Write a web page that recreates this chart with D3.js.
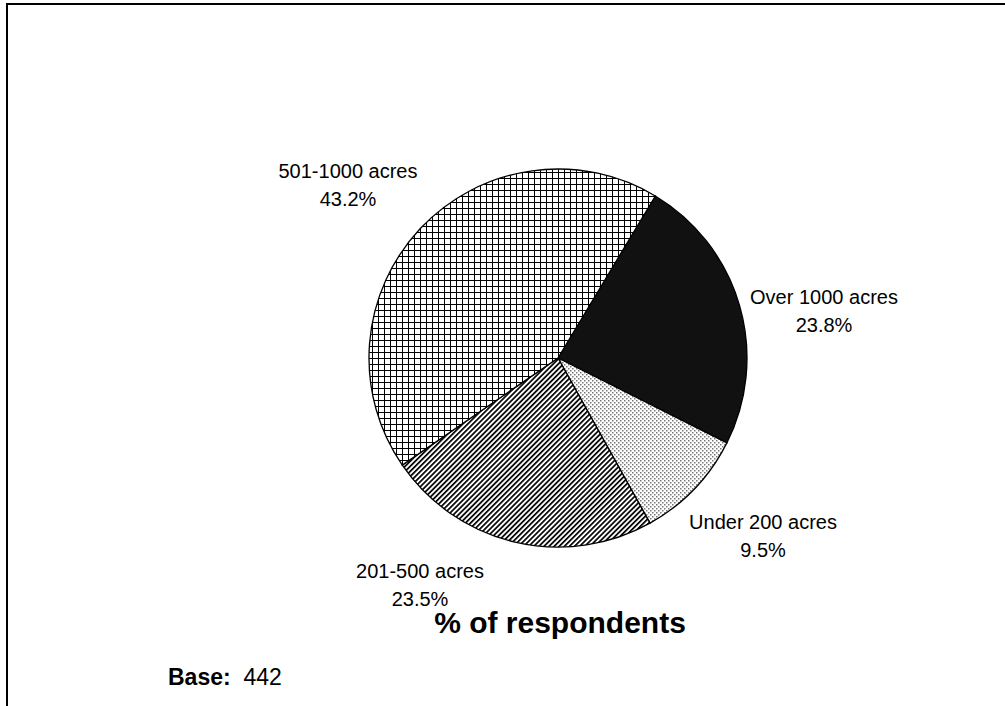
<!DOCTYPE html>
<html>
<head>
<meta charset="utf-8">
<script src="https://cdn.jsdelivr.net/npm/d3@7"></script>
<style>
  body { margin: 0; background: #fff; }
  svg { display: block; font-family: "Liberation Sans", Arial, sans-serif; }
</style>
</head>
<body>
<div id="chart"></div>
<script>
var width = 1005;
var height = 706;

// data, clockwise from the top-right slice
var categories = ["Over 1000 acres", "Under 200 acres", "201-500 acres", "501-1000 acres"];
var shares = [23.8, 9.5, 23.5, 43.2];
var shareLabels = ["23.8%", "9.5%", "23.5%", "43.2%"];
var fills = ["solid", "dots", "diag", "grid"];

// label anchor points (layout, not data)
var labelPos = [[824, 304], [763, 529], [420, 578], [348, 178]];

var svg = d3.select("#chart").append("svg")
    .attr("width", width)
    .attr("height", height);

var defs = svg.append("defs");

var dots = defs.append("pattern").attr("id", "dots")
    .attr("patternUnits", "userSpaceOnUse").attr("width", 4).attr("height", 4);
dots.append("rect").attr("width", 4).attr("height", 4).attr("fill", "#fff");
dots.append("rect").attr("x", 0).attr("y", 0).attr("width", 1.5).attr("height", 1.5).attr("fill", "#777");
dots.append("rect").attr("x", 2).attr("y", 2).attr("width", 1.5).attr("height", 1.5).attr("fill", "#777");

var diag = defs.append("pattern").attr("id", "diag")
    .attr("patternUnits", "userSpaceOnUse").attr("width", 3.6).attr("height", 3.6)
    .attr("patternTransform", "rotate(45)");
diag.append("rect").attr("width", 3.6).attr("height", 3.6).attr("fill", "#fff");
diag.append("rect").attr("x", 0).attr("y", 0).attr("width", 1.7).attr("height", 3.6).attr("fill", "#000");

var grid = defs.append("pattern").attr("id", "grid")
    .attr("patternUnits", "userSpaceOnUse").attr("width", 6).attr("height", 6);
grid.append("rect").attr("width", 6).attr("height", 6).attr("fill", "#fff");
grid.append("rect").attr("x", 0).attr("y", 0).attr("width", 1).attr("height", 6).attr("fill", "#000");
grid.append("rect").attr("x", 0).attr("y", 0).attr("width", 6).attr("height", 1).attr("fill", "#000");

// frame: only top and left edges are visible
svg.append("path")
    .attr("d", "M7," + height + " L7,4 L" + width + ",4")
    .attr("fill", "none").attr("stroke", "#000").attr("stroke-width", 2);

var cx = 558, cy = 358, r = 189;
var startAngle = 31 * Math.PI / 180;

var pie = d3.pie().sort(null)
    .startAngle(startAngle).endAngle(startAngle + 2 * Math.PI)
    .value(function(d){ return d; });
var arc = d3.arc().innerRadius(0).outerRadius(r);

var g = svg.append("g").attr("transform", "translate(" + cx + "," + cy + ")");

g.selectAll("path")
    .data(pie(shares))
    .enter()
    .append("path")
    .attr("d", arc)
    .attr("fill", function(d, i){
        return fills[i] == "solid" ? "#111" : "url(#" + fills[i] + ")";
    })
    .attr("stroke", "#000")
    .attr("stroke-width", 1.3);

var labels = svg.selectAll("g.lbl")
    .data(categories)
    .enter()
    .append("g")
    .attr("class", "lbl");

labels.append("text")
    .attr("x", function(d, i){ return labelPos[i][0]; })
    .attr("y", function(d, i){ return labelPos[i][1]; })
    .attr("text-anchor", "middle")
    .attr("font-size", 20)
    .text(function(d){ return d; });

labels.append("text")
    .attr("x", function(d, i){ return labelPos[i][0]; })
    .attr("y", function(d, i){ return labelPos[i][1] + 28; })
    .attr("text-anchor", "middle")
    .attr("font-size", 20)
    .text(function(d, i){ return shareLabels[i]; });

svg.append("text")
    .attr("x", 560).attr("y", 633)
    .attr("text-anchor", "middle")
    .attr("font-size", 30).attr("font-weight", "bold")
    .text("% of respondents");

var base = svg.append("text")
    .attr("x", 168).attr("y", 685)
    .attr("font-size", 23)
    .style("white-space", "pre");
base.append("tspan").attr("font-weight", "bold").text("Base:");
base.append("tspan").text("  442");
</script>
</body>
</html>
